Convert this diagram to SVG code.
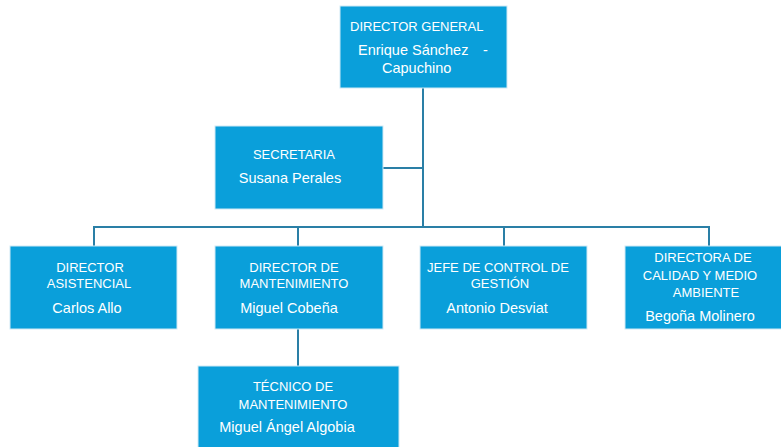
<svg xmlns="http://www.w3.org/2000/svg" width="781" height="447" viewBox="0 0 781 447">
<style>
.box{fill:#0a9fda;stroke:#cfe9f5;stroke-width:1}
.t{font-family:"Liberation Sans",Arial,sans-serif;font-size:13px;fill:#ffffff}
.n{font-size:14.5px}
.c{text-anchor:middle}
.ln{stroke:#2a7fa6;stroke-width:2;fill:none}
</style>
<rect width="781" height="447" fill="#ffffff"/>
<g id="connectors">
<path class="ln" d="M423,88 V227"/>
<path class="ln" d="M383,168 H423"/>
<path class="ln" d="M94,246 V227 H709 V246"/>
<path class="ln" d="M298,227 V246"/>
<path class="ln" d="M504,227 V246"/>
<path class="ln" d="M298,329 V366"/>
</g>
<g id="director-general">
<rect class="box" x="340" y="6" width="167" height="82"/>
<text class="t" x="350" y="31">DIRECTOR GENERAL</text>
<text class="t n" x="358" y="55">Enrique Sánchez</text>
<text class="t n" x="483" y="55">-</text>
<text class="t n" x="382" y="73">Capuchino</text>
</g>
<g id="secretaria">
<rect class="box" x="215" y="126" width="168" height="83"/>
<text class="t c" x="294" y="159">SECRETARIA</text>
<text class="t n c" x="290" y="183">Susana Perales</text>
</g>
<g id="director-asistencial">
<rect class="box" x="10" y="246" width="167" height="83"/>
<text class="t c" x="90" y="272">DIRECTOR</text>
<text class="t c" x="89" y="288">ASISTENCIAL</text>
<text class="t n c" x="87" y="313">Carlos Allo</text>
</g>
<g id="director-mantenimiento">
<rect class="box" x="215" y="246" width="168" height="83"/>
<text class="t c" x="294" y="272">DIRECTOR DE</text>
<text class="t c" x="294" y="288">MANTENIMIENTO</text>
<text class="t n c" x="289" y="313">Miguel Cobeña</text>
</g>
<g id="jefe-control">
<rect class="box" x="420" y="246" width="167" height="83"/>
<text class="t" x="427" y="272">JEFE DE CONTROL DE</text>
<text class="t c" x="500" y="288">GESTIÓN</text>
<text class="t n c" x="497" y="313">Antonio Desviat</text>
</g>
<g id="directora-calidad">
<rect class="box" x="625" y="246" width="160" height="83"/>
<text class="t c" x="703" y="262">DIRECTORA DE</text>
<text class="t c" x="700" y="280">CALIDAD Y MEDIO</text>
<text class="t c" x="706" y="297">AMBIENTE</text>
<text class="t n c" x="700" y="321">Begoña Molinero</text>
</g>
<g id="tecnico-mantenimiento">
<rect class="box" x="198" y="366" width="201" height="85"/>
<text class="t c" x="293" y="391">TÉCNICO DE</text>
<text class="t c" x="293" y="409">MANTENIMIENTO</text>
<text class="t n c" x="287" y="432">Miguel Ángel Algobia</text>
</g>
</svg>
